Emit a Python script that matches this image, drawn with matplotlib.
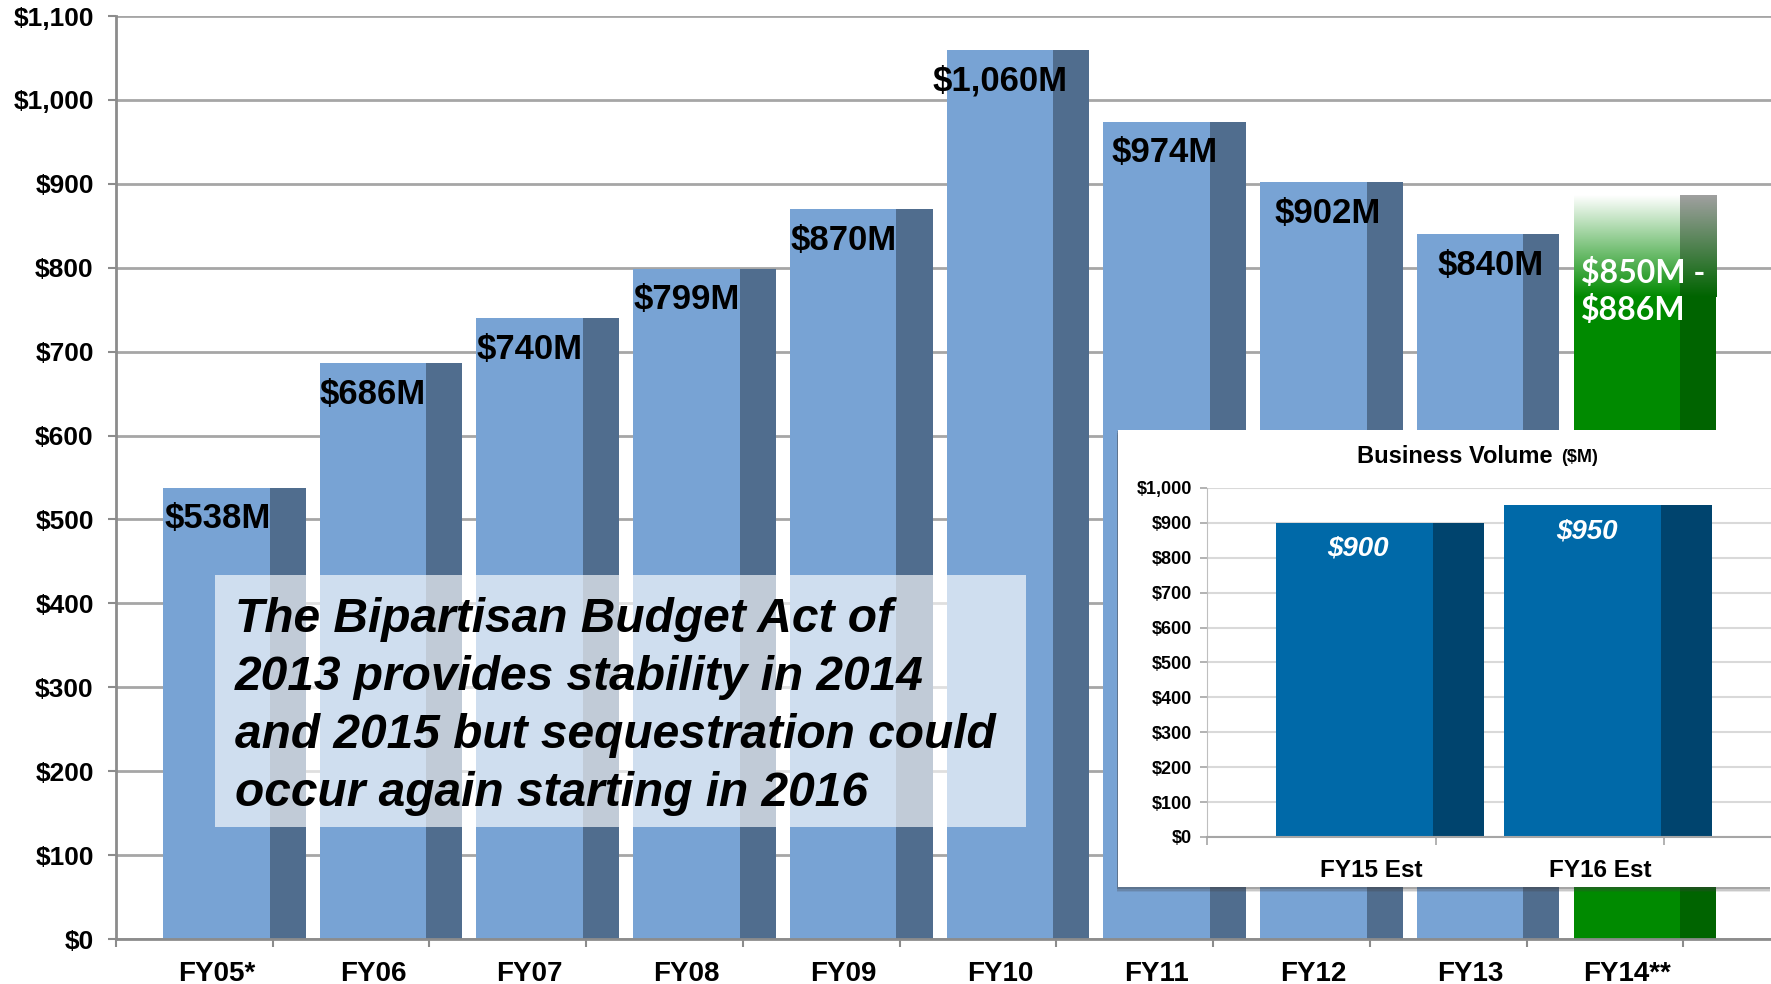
import numpy as np
import matplotlib.pyplot as plt
from matplotlib.patches import Rectangle
from matplotlib.colors import LinearSegmentedColormap

plt.rcParams['font.family'] = ['Liberation Sans', 'DejaVu Sans']

# main chart data ($M)
years = ["FY05*", "FY06", "FY07", "FY08", "FY09", "FY10", "FY11", "FY12", "FY13"]
volume = [538, 686, 740, 799, 870, 1060, 974, 902, 840]
est_year = "FY14**"
est_low, est_high = 850, 886
yticks = np.arange(0, 1101, 100)

# inset data ($M)
inset_years = ["FY15 Est", "FY16 Est"]
inset_volume = [900, 950]
inset_yticks = np.arange(0, 1001, 100)

note_lines = ["The Bipartisan Budget Act of",
              "2013 provides stability in 2014",
              "and 2015 but sequestration could",
              "occur again starting in 2016"]

face = '#78A3D4'
side = '#506D8E'
green = '#008A00'
green_side = '#006400'
inset_face = '#0069A8'
inset_side = '#00446E'

# labels of the last few bars sit a bit to the right in the original
label_nudge = [0.01, 0, 0, 0, 0, 0, 0.05, 0.09, 0.13]

fig = plt.figure(figsize=(17.71, 9.84), dpi=100)
ax = fig.add_axes([0.0655, 0.0457, 0.9345, 0.938])

x = np.arange(len(years))
ax.bar(x, volume, width=0.68, color=face, zorder=2)
ax.bar(x + 0.34, volume, width=0.23, align='edge', color=side, zorder=2)
for i, v, dx in zip(x, volume, label_nudge):
    ax.text(i + dx, v - 37, f"${v:,}M", ha='center', va='center',
            fontsize=25, fontweight='bold', zorder=4)

# FY14 estimate: green bar fading to white at the top
xe = len(years)
fade_from = est_low - 85
ax.bar(xe, fade_from, width=0.68, color=green, zorder=2)
ax.bar(xe + 0.34, fade_from, width=0.23, align='edge', color=green_side, zorder=2)
grad = np.linspace(0, 1, 256).reshape(-1, 1)
cm_face = LinearSegmentedColormap.from_list('f', [green, '#ffffff'])
cm_side = LinearSegmentedColormap.from_list('s', [green_side, '#a0a0a0'])
ax.imshow(grad, cmap=cm_face, origin='lower', aspect='auto', zorder=2,
          extent=[xe - 0.34, xe + 0.34, fade_from, est_high])
ax.imshow(grad, cmap=cm_side, origin='lower', aspect='auto', zorder=2,
          extent=[xe + 0.34, xe + 0.57, fade_from, est_high])
ax.text(xe - 0.29, 772, f"${est_low}M -\n${est_high}M", ha='left', va='center',
        color='white', fontsize=23, fontweight='bold', family='Lato',
        linespacing=1.3, zorder=4)

ax.set_xlim(-0.64, 9.92)
ax.set_ylim(0, 1100)
ax.set_yticks(yticks)
ax.set_yticklabels([f"${t:,}" for t in yticks], fontsize=19, fontweight='bold')
ax.set_xticks(list(x) + [xe])
ax.set_xticklabels(years + [est_year], fontsize=20, fontweight='bold')
ax.set_xticks(np.arange(-1, 10) + 0.36, minor=True)
ax.tick_params(axis='x', which='major', length=0, pad=16)
ax.tick_params(axis='x', which='minor', length=6, width=1.5, color='#8C8C8C')
ax.tick_params(axis='y', length=6, width=1.5, color='#8C8C8C', pad=10)
ax.yaxis.grid(True, color='#A6A6A6', lw=2)
ax.set_axisbelow(True)
for s in ['top', 'right']:
    ax.spines[s].set_visible(False)
for s in ['left', 'bottom']:
    ax.spines[s].set_color('#8C8C8C')
    ax.spines[s].set_linewidth(2)

# note box
fig.add_artist(Rectangle((0.1214, 0.1596), 0.458, 0.256, transform=fig.transFigure,
                         facecolor='white', alpha=0.65, edgecolor='none', zorder=1))
for k, line in enumerate(note_lines):
    fig.text(0.1327, 0.3705 - k * 0.0588, line, ha='left', va='center',
             fontsize=34.5, fontweight='bold', style='italic', zorder=3)

# inset panel with shadow
box = fig.add_axes([0.6313, 0.0986, 0.3687, 0.4648])
box.axis('off')
for k, a in enumerate([0.12, 0.18, 0.25]):
    off = 0.012 - k * 0.004
    box.add_patch(Rectangle((-0.002, -off), 1.0, 1.0, transform=box.transAxes,
                            facecolor='#404040', alpha=a, edgecolor='none', clip_on=False))
box.add_patch(Rectangle((0, 0), 1, 1, transform=box.transAxes, facecolor='white',
                        edgecolor='none', clip_on=False))

fig.text(0.8769, 0.5356, "Business Volume", ha='right', va='center',
         fontsize=17, fontweight='bold')
fig.text(0.8815, 0.5346, "($M)", ha='left', va='center', fontsize=13, fontweight='bold')

iax = fig.add_axes([0.6815, 0.1494, 0.3185, 0.3547])
iax.patch.set_alpha(0)
xi = np.arange(len(inset_years))
iax.bar(xi - 0.42, inset_volume, width=0.687, align='edge', color=inset_face, zorder=2)
iax.bar(xi + 0.267, inset_volume, width=0.223, align='edge', color=inset_side, zorder=2)
for i, v in zip(xi, inset_volume):
    iax.text(i - 0.06, v - 74, f"${v}", ha='center', va='center', color='white',
             fontsize=20, fontweight='bold', style='italic', zorder=4)
iax.set_xlim(-0.72, 1.746)
iax.set_ylim(0, 1000)
iax.set_yticks(inset_yticks)
iax.set_yticklabels([f"${t:,}" for t in inset_yticks], fontsize=13, fontweight='bold')
iax.set_xticks(xi)
iax.set_xticklabels(inset_years, fontsize=17.5, fontweight='bold')
iax.set_xticks(np.arange(-1, 2) + 0.28, minor=True)
iax.tick_params(axis='x', which='major', length=0, pad=16)
iax.tick_params(axis='x', which='minor', length=6, width=1.2, color='#A6A6A6')
iax.tick_params(axis='y', length=5, width=1.2, color='#A6A6A6', pad=6)
iax.yaxis.grid(True, color='#D9D9D9', lw=1.5)
iax.set_axisbelow(True)
for s in ['top', 'right']:
    iax.spines[s].set_visible(False)
iax.spines['left'].set_color('#BFBFBF')
iax.spines['bottom'].set_color('#A6A6A6')
iax.spines['bottom'].set_linewidth(1.5)

fig.savefig('out.png', dpi=100)
